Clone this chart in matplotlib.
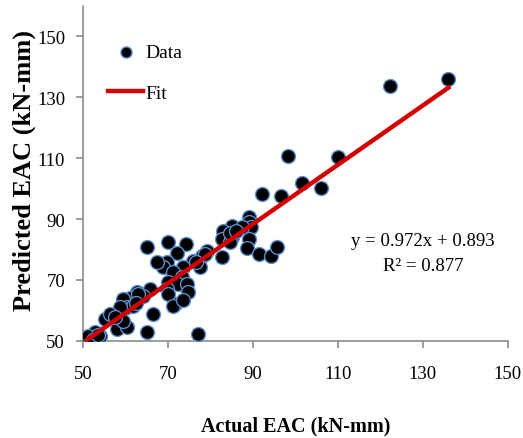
import numpy as np
import matplotlib.pyplot as plt

# actual vs predicted EAC (kN-mm)
actual = [136, 122.2, 98.2, 110, 101.5, 106, 92.1, 96.6, 89.1, 89, 89.5, 85, 83, 87.4,
          85, 82.7, 89, 88.6, 82.7, 79.2, 91.4, 94.2, 95.6, 84.6, 78, 65.1, 70, 74.2,
          72.1, 78.7, 84.6, 69.8, 68.8, 75.9, 73.5, 77.5, 71.2, 73.3, 70, 72.4, 74.5,
          69.8, 65.8, 62.7, 64, 61, 71.6, 70, 74.7, 71.2, 73.5, 66.5, 65, 63, 59.4,
          60.4, 61.8, 58.7, 55.2, 56.4, 58, 60.4, 59.4, 52.8, 51.2, 54, 52.4, 77,
          67.5, 86, 76.5, 62.5, 57.5, 53.5]
predicted = [135.9, 133.6, 110.7, 110.3, 101.8, 100.2, 98.2, 97.5, 90.5, 89, 87.5, 87.7,
             86, 87.4, 84, 83.4, 83.4, 80.5, 77.5, 79.5, 78.5, 77.9, 80.8, 82.5, 77.9,
             80.8, 82.5, 81.8, 78.9, 78.5, 85.5, 75.9, 74.3, 76.2, 74.3, 74.3, 72.6, 71,
             69.3, 68.7, 68.7, 67, 67, 66, 64.8, 64, 62, 65.4, 66, 61.5, 63.5, 58.9, 53,
             65.4, 63.8, 61.1, 61.5, 61.1, 57.2, 58.9, 53.9, 54.6, 56.5, 53, 51.6, 51.6,
             50.3, 52.3, 76, 86, 76, 62.5, 58, 52]

slope = 0.972
intercept = 0.893
r2 = 0.877

plt.rcParams['font.family'] = ['Liberation Serif', 'DejaVu Serif']

fig = plt.figure(figsize=(5.23, 4.39), dpi=100)
ax = fig.add_axes([0.159, 0.221, 0.812, 0.764])

ax.scatter(actual, predicted, s=100, c='black', edgecolors='#5b8fd0',
           linewidths=1.0, label='Data', zorder=3)
xf = np.array([min(actual) - 1.2, max(actual)])
ax.plot(xf, slope * xf + intercept, color='#d40000', lw=3.2, label='Fit', zorder=4)

ax.set_xlim(50, 150)
ax.set_ylim(50, 160)
ax.set_xticks(np.arange(50, 151, 20))
ax.set_yticks(np.arange(50, 151, 20))
for s in ['top', 'right']:
    ax.spines[s].set_visible(False)
for s in ['left', 'bottom']:
    ax.spines[s].set_color('#8c8c8c')
    ax.spines[s].set_linewidth(1.2)
ax.tick_params(colors='#8c8c8c', labelcolor='black', labelsize=13.5, length=5,
               width=1.2, direction='out')
ax.tick_params(axis='x', pad=12)
ax.tick_params(axis='y', pad=8)

ax.set_xlabel('Actual EAC (kN-mm)', fontsize=14.5, fontweight='bold')
ax.set_ylabel('Predicted EAC (kN-mm)', fontsize=19, fontweight='bold')
ax.xaxis.set_label_coords(0.5, -0.222)
ax.yaxis.set_label_coords(-0.11, 0.51)

ax.text(0.80, 0.262, f'y = {slope}x + {intercept}\nR² = {r2}', transform=ax.transAxes,
        ha='center', va='center', fontsize=13.5, linespacing=1.6)

ax.legend(loc='upper left', bbox_to_anchor=(0.059, 0.888), frameon=False, fontsize=14,
          handlelength=1.8, handletextpad=0.1, labelspacing=1.2, markerscale=0.8,
          borderpad=0, borderaxespad=0)

fig.savefig('out.png', dpi=100)
